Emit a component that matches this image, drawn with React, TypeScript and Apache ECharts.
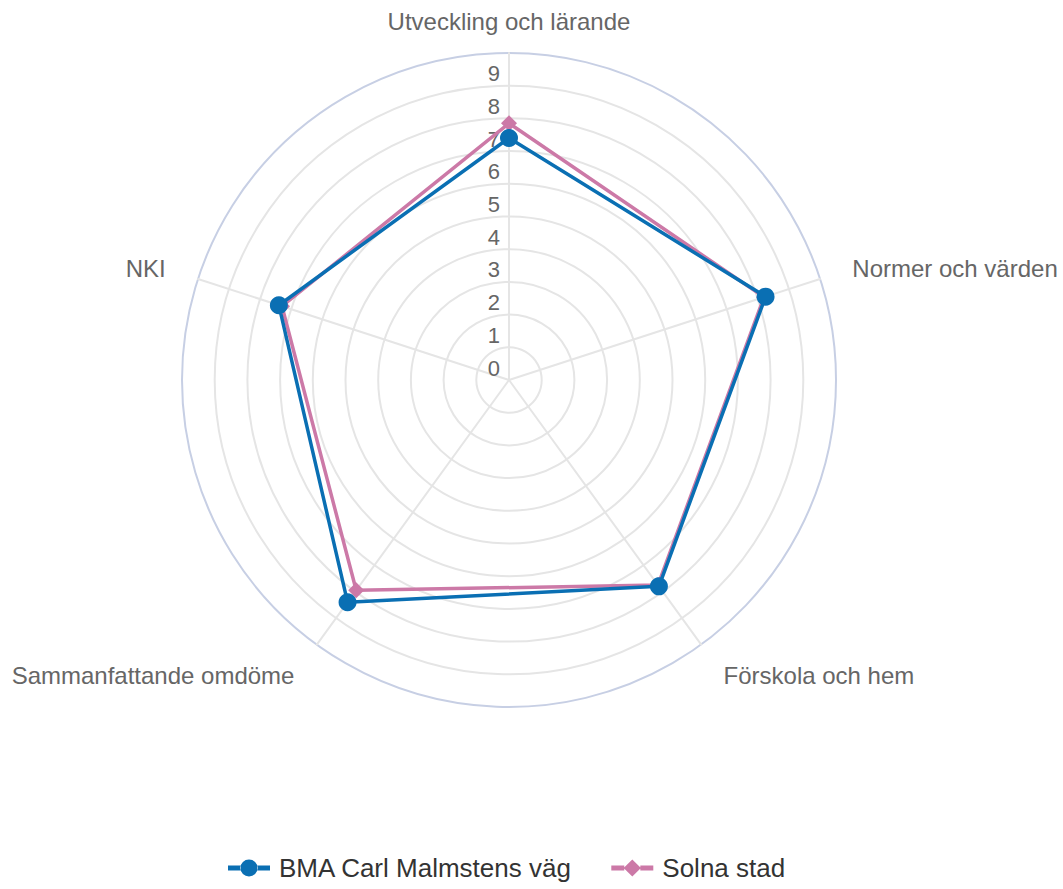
import React, { useEffect, useRef } from "react";
import * as echarts from "echarts";

const indicatorNames = [
  "Utveckling och lärande",
  "NKI",
  "Sammanfattande omdöme",
  "Förskola och hem",
  "Normer och värden",
];
const bmaValues = [7.4, 7.4, 8.4, 7.8, 8.25];
const solnaValues = [7.85, 7.3, 7.95, 7.75, 8.2];
const seriesNames = ["BMA Carl Malmstens väg", "Solna stad"];
const axisMax = 10;

const FONT = "Liberation Sans, Arial, Helvetica, sans-serif";
const ICON_BMA =
  "path://M0,5L10.5,5L10.5,9L0,9Z M23.5,5L34,5L34,9L23.5,9Z M10,7A7,7 0 1,0 24,7A7,7 0 1,0 10,7Z";
const ICON_SOLNA =
  "path://M0,5L10.5,5L10.5,9L0,9Z M23.5,5L34,5L34,9L23.5,9Z M17,0L24,7L17,14L10,7Z";

export default function App() {
  const ref = useRef<HTMLDivElement>(null);
  useEffect(() => {
    document.body.style.margin = "0";
    const chart = echarts.init(ref.current!, null, { renderer: "svg" });
    const ringColors = Array.from({ length: 11 }, (_, i) => (i === 10 ? "#c7cfe4" : "#e5e5e5"));
    const gaps = [20, 34, 38, 38, 34];
    chart.setOption({
      animation: false,
      legend: {
        data: [
          { name: seriesNames[0], icon: ICON_BMA },
          { name: seriesNames[1], icon: ICON_SOLNA },
        ],
        bottom: 3,
        left: 223,
        itemWidth: 42,
        itemHeight: 17,
        itemGap: 39,
        symbolKeepAspect: false,
        itemStyle: { borderWidth: 0 },
        textStyle: { fontSize: 26, color: "#333", fontFamily: FONT, padding: [0, 0, 0, 4] },
      },
      radar: {
        center: [509, 380],
        radius: 327,
        shape: "circle",
        startAngle: 90,
        splitNumber: 10,
        nameGap: 20,
        axisName: { color: "#666", fontSize: 24, fontFamily: FONT },
        indicator: indicatorNames.map((n, i) =>
          i === 0
            ? {
                name: n,
                min: 0,
                max: axisMax,
                nameGap: gaps[i],
                axisLabel: {
                  show: true,
                  showMaxLabel: false,
                  fontSize: 22,
                  color: "#666",
                  margin: 9,
                  verticalAlign: "bottom",
                  padding: [0, 0, 1, 0],
                  fontFamily: FONT,
                },
              }
            : { name: n, min: 0, max: axisMax, nameGap: gaps[i] }
        ),
        axisLabel: { show: false },
        axisTick: { show: false },
        axisLine: { lineStyle: { color: "#e5e5e5", width: 2 } },
        splitLine: { lineStyle: { color: ringColors, width: 2 } },
        splitArea: { show: false },
      },
      series: [
        {
          type: "radar",
          data: [
            {
              name: seriesNames[1],
              value: solnaValues,
              symbol: "diamond",
              symbolSize: 16,
              itemStyle: { color: "#cc79a7" },
              lineStyle: { color: "#cc79a7", width: 3.5 },
            },
            {
              name: seriesNames[0],
              value: bmaValues,
              symbol: "circle",
              symbolSize: 18,
              itemStyle: { color: "#0a6fb3" },
              lineStyle: { color: "#0a6fb3", width: 3.5 },
            },
          ],
        },
      ],
    });
    return () => chart.dispose();
  }, []);
  return <div ref={ref} style={{ width: 1063, height: 889 }} />;
}
